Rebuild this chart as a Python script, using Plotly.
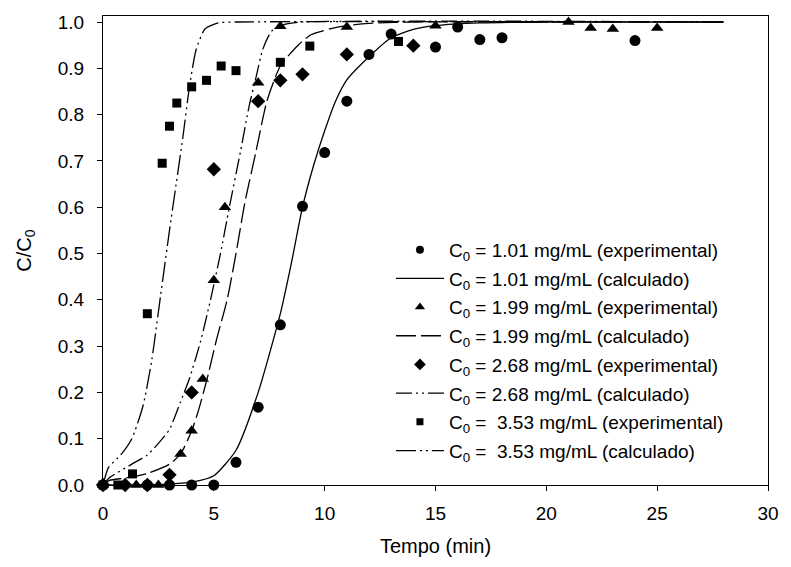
import plotly.graph_objects as go

# ---- experimental breakthrough data (C/C0 vs time, min) ----
t_exp_101 = [0, 2, 3, 4, 5, 6, 7, 8, 9, 10, 11, 12, 13, 15, 16, 17, 18, 24]
c_exp_101 = [0, 0, 0, 0, 0, 0.049, 0.168, 0.346, 0.602, 0.718, 0.829, 0.93,
             0.974, 0.946, 0.989, 0.962, 0.966, 0.96]

t_exp_199 = [0, 1.5, 2.5, 3.5, 4, 4.5, 5, 5.5, 7, 8, 11, 15, 21, 22, 23, 25]
c_exp_199 = [0, 0, 0, 0.067, 0.117, 0.229, 0.442, 0.60, 0.869, 0.991, 0.989,
             0.992, 1.0, 0.987, 0.985, 0.987]

t_exp_268 = [0, 1, 2, 3, 4, 5, 7, 8, 9, 11, 14]
c_exp_268 = [0, 0, 0, 0.022, 0.20, 0.682, 0.829, 0.874, 0.887, 0.93, 0.949]

t_exp_353 = [0, 0.67, 1.33, 2, 2.67, 3, 3.33, 4, 4.67, 5.33, 6, 8, 9.33, 13.33]
c_exp_353 = [0, 0, 0.024, 0.37, 0.695, 0.775, 0.825, 0.86, 0.874, 0.905,
             0.895, 0.913, 0.948, 0.958]

# ---- calculated breakthrough curves ----
t_cal_101 = [0, 2, 3, 4, 5, 6, 7, 8, 8.5, 9, 9.5, 10, 10.5, 11, 12, 13, 14,
             15, 17, 20, 28]
c_cal_101 = [0, 0, 0.002, 0.006, 0.02, 0.075, 0.2, 0.37, 0.48, 0.6, 0.69,
             0.765, 0.83, 0.875, 0.925, 0.966, 0.984, 0.992, 0.998, 1.0, 1.0]

t_cal_199 = [0, 0.3, 1, 2, 3, 3.5, 4, 4.3, 4.7, 5.1, 5.6, 6.0, 6.4, 6.9,
             7.4, 8.0, 8.8, 9.4, 10.7, 12, 14, 28]
c_cal_199 = [0, 0.01, 0.015, 0.025, 0.045, 0.067, 0.117, 0.16, 0.23, 0.31,
             0.40, 0.50, 0.61, 0.72, 0.83, 0.905, 0.95, 0.973, 0.99, 0.997,
             1.0, 1.0]

t_cal_268 = [0, 0.3, 1.3, 2.0, 2.5, 3.0, 3.5, 3.9, 4.4, 4.85, 5.3, 5.7, 6.2,
             6.6, 6.9, 7.2, 7.6, 8.2, 9, 28]
c_cal_268 = [0, 0.016, 0.045, 0.065, 0.09, 0.12, 0.18, 0.23, 0.31, 0.40,
             0.50, 0.60, 0.72, 0.82, 0.88, 0.94, 0.98, 0.995, 1.0, 1.0]

t_cal_353 = [0, 0.25, 0.8, 1.3, 1.8, 2.2, 2.6, 3.0, 3.3, 3.6, 3.9, 4.2, 4.6,
             5.2, 6, 28]
c_cal_353 = [0, 0.038, 0.065, 0.10, 0.17, 0.27, 0.41, 0.55, 0.65, 0.75,
             0.86, 0.94, 0.985, 0.998, 1.0, 1.0]

x_ticks = [0, 5, 10, 15, 20, 25, 30]
y_ticks = [0.0, 0.1, 0.2, 0.3, 0.4, 0.5, 0.6, 0.7, 0.8, 0.9, 1.0]

FONT = "Arial, Liberation Sans, sans-serif"
BLACK = "#000000"

fig = go.Figure()


def add_points(t, c, name, symbol, size, key_size):
    # plotted symbols
    fig.add_trace(go.Scatter(
        x=t, y=c, mode="markers", name=name, showlegend=False,
        marker=dict(symbol=symbol, size=size, color=BLACK,
                    line=dict(width=0)),
        cliponaxis=False,
    ))
    # legend key with a smaller symbol
    fig.add_trace(go.Scatter(
        x=[None], y=[None], mode="markers", name=name, legendgroup=name,
        marker=dict(symbol=symbol, size=key_size, color=BLACK,
                    line=dict(width=0)),
    ))


def add_curve(t, c, name, dash):
    fig.add_trace(go.Scatter(
        x=t, y=c, mode="lines", name=name, legendgroup=name,
        line=dict(color=BLACK, width=1.3, dash=dash, shape="spline",
                  smoothing=0.6),
    ))


add_points(t_exp_101, c_exp_101,
           "C<sub>0</sub> = 1.01 mg/mL (experimental)", "circle", 11, 8)
add_curve(t_cal_101, c_cal_101,
          "C<sub>0</sub> = 1.01 mg/mL (calculado)", "solid")
add_points(t_exp_199, c_exp_199,
           "C<sub>0</sub> = 1.99 mg/mL (experimental)", "triangle-up", 11, 9)
add_curve(t_cal_199, c_cal_199,
          "C<sub>0</sub> = 1.99 mg/mL (calculado)", "20px,5px")
add_points(t_exp_268, c_exp_268,
           "C<sub>0</sub> = 2.68 mg/mL (experimental)", "diamond", 11, 9)
add_curve(t_cal_268, c_cal_268,
          "C<sub>0</sub> = 2.68 mg/mL (calculado)",
          "16px,4px,2px,4px,2px,4px")
add_points(t_exp_353, c_exp_353,
           "C<sub>0</sub> =  3.53 mg/mL (experimental)", "square", 9, 7)
add_curve(t_cal_353, c_cal_353,
          "C<sub>0</sub> =  3.53 mg/mL (calculado)",
          "20px,4px,2px,4px,2px,4px")

axis_common = dict(
    showgrid=False, zeroline=False, showline=True, linecolor=BLACK,
    linewidth=1, mirror=True, ticks="outside", ticklen=5, tickwidth=1,
    tickcolor=BLACK, tickfont=dict(family=FONT, size=19, color=BLACK),
)

fig.update_xaxes(
    range=[0, 30], tickvals=x_ticks, ticklabelstandoff=6,
    title=dict(text="Tempo (min)", font=dict(family=FONT, size=20,
                                             color=BLACK), standoff=16),
    **axis_common,
)
fig.update_yaxes(
    range=[0, 1.013], tickvals=y_ticks, tickformat=".1f",
    ticklabelstandoff=9,
    title=dict(text="C/C<sub>0</sub>", font=dict(family=FONT, size=20,
                                                 color=BLACK), standoff=20),
    **axis_common,
)

fig.update_layout(
    width=791, height=567,
    margin=dict(l=103, r=13, t=13, b=82),
    paper_bgcolor="white", plot_bgcolor="white",
    showlegend=True,
    legend=dict(
        x=0.433, y=0.542, xanchor="left", yanchor="top",
        traceorder="grouped", tracegroupgap=1, itemwidth=48,
        bgcolor="rgba(0,0,0,0)", borderwidth=0,
        font=dict(family=FONT, size=19, color=BLACK),
    ),
    font=dict(family=FONT, color=BLACK),
)

fig.write_html("out.html")
